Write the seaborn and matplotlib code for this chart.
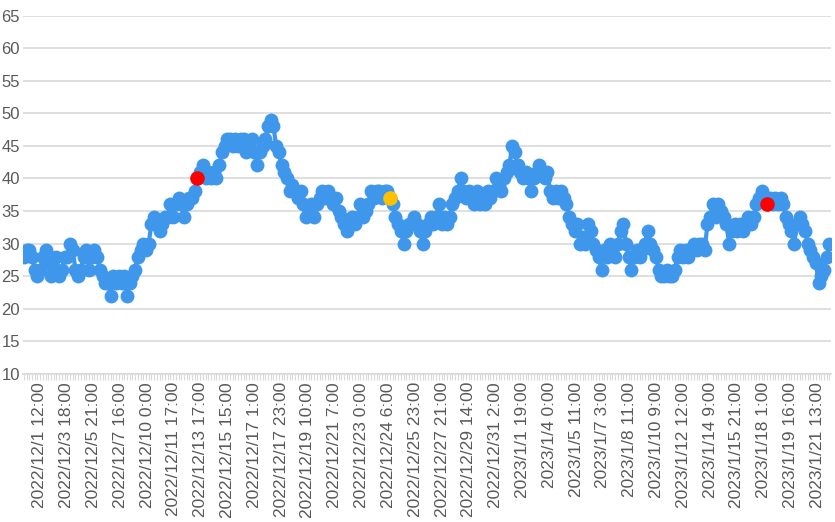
import numpy as np
import matplotlib
matplotlib.use("Agg")
import matplotlib.pyplot as plt
import seaborn as sns

# values, split at the highlighted points
seg1 = [28, 29, 29, 28, 26, 25, 26, 28, 29, 27, 25, 26, 28, 25, 26, 28, 28, 30, 29, 26,
        25, 26, 28, 29, 26, 28, 29, 28, 26, 25, 24, 24, 22, 25, 24, 25, 24, 25, 22,
        24, 25, 26, 28, 29, 30, 29, 30, 33, 34, 33, 32, 33, 34, 34, 36, 34, 36, 37, 36,
        34, 36, 37, 37, 38, 40]
seg2 = [41, 42, 40, 41, 40, 41, 40, 42, 44, 45, 46, 46, 45, 46, 45, 46, 46, 44,
        45, 46, 44, 42, 44, 45, 46, 48, 49, 48, 45, 44, 42, 41, 40, 38, 39, 38, 37,
        38, 36, 34, 35, 36, 34, 36, 37, 38, 37, 38, 37, 36, 37, 35, 34, 33, 32, 33,
        34, 33, 34, 36, 34, 35, 36, 38, 37, 38, 38, 37, 38, 38, 37]
seg3 = [36, 34, 33, 32, 30, 32, 33, 33, 34, 33, 32, 30, 32, 33, 34, 33, 34, 36,
        33, 34, 33, 34, 36, 37, 38, 40, 38, 37, 38, 37, 36, 38, 36, 37, 36, 38, 37,
        38, 40, 39, 38, 40, 41, 42, 45, 44, 42, 41, 40, 41, 40, 38, 40, 41, 42, 41,
        40, 41, 38, 37, 38, 37, 38, 37, 36, 34, 33, 32, 33, 30, 31, 30, 33, 32, 30,
        29, 28, 26, 29, 28, 30, 29, 28, 30, 32, 33, 30, 28, 26, 28, 29, 28, 29, 30,
        32, 30, 29, 28, 26, 25, 25, 26, 25, 25, 26, 28, 29, 28, 29, 28, 29, 30, 29,
        30, 30, 29, 33, 34, 36, 34, 36, 35, 34, 33, 30, 32, 33, 32, 33, 32, 33, 34,
        33, 34, 36, 37, 38, 37, 36]
seg4 = [37, 36, 37, 36, 37, 36, 34, 33, 32, 30, 33, 34, 33, 32, 30, 29, 28, 27,
        24, 25, 26, 28, 30]

labels = ['2022/12/1 12:00', '2022/12/3 18:00', '2022/12/5 21:00', '2022/12/7 16:00',
          '2022/12/10 0:00', '2022/12/11 17:00', '2022/12/13 17:00', '2022/12/15 15:00',
          '2022/12/17 1:00', '2022/12/17 23:00', '2022/12/19 10:00', '2022/12/21 7:00',
          '2022/12/23 0:00', '2022/12/24 6:00', '2022/12/25 23:00', '2022/12/27 21:00',
          '2022/12/29 14:00', '2022/12/31 2:00', '2023/1/1 19:00', '2023/1/4 0:00',
          '2023/1/5 11:00', '2023/1/7 3:00', '2023/1/8 11:00', '2023/1/10 9:00',
          '2023/1/12 12:00', '2023/1/14 9:00', '2023/1/15 21:00', '2023/1/18 1:00',
          '2023/1/19 16:00', '2023/1/21 13:00']

values = np.array(seg1 + seg2 + seg3 + seg4, dtype=float)
x = np.arange(len(values))
red_idx = [len(seg1) - 1, len(seg1) + len(seg2) + len(seg3) - 1]
yellow_idx = [len(seg1) + len(seg2) - 1]

sns.set_theme(style="white")
plt.rcParams['font.family'] = ['Liberation Sans', 'DejaVu Sans']

fig = plt.figure(figsize=(8.35, 5.22), dpi=100)
ax = fig.add_axes([0.027, 0.284, 0.968, 0.686])

sns.lineplot(x=x, y=values, ax=ax, color='#3f97ec', linewidth=3, marker='o',
             markersize=10, markeredgewidth=0, markerfacecolor='#3f97ec')
ax.scatter(x[red_idx], values[red_idx], s=110, color='#ff0000', zorder=5, linewidths=0)
ax.scatter(x[yellow_idx], values[yellow_idx], s=110, color='#ffc000', zorder=5, linewidths=0)

n = len(values)
ax.set_xlim(-0.5, n - 0.5)
ax.set_ylim(10, 65)
ax.set_yticks(range(10, 66, 5))
ax.grid(axis='y', color='#d9d9d9', linewidth=1.2)
ax.set_axisbelow(True)

# category axis: label every ~n/30.2 points
step = n / 30.15
ticks = [(38 - 22) / 808 * n + k * step for k in range(len(labels))]
ax.set_xticks(ticks)
ax.set_xticklabels(labels, rotation=90, fontsize=12.5, color='#595959')
ax.set_xticks(x, minor=True)
ax.tick_params(axis='x', which='minor', length=4, color='#d9d9d9', width=0.8, bottom=True)
ax.tick_params(axis='x', which='major', length=0, pad=6)
ax.tick_params(axis='y', length=0, labelsize=12, labelcolor='#595959', pad=2)
for s in ['top', 'right', 'left']:
    ax.spines[s].set_visible(False)
ax.spines['bottom'].set_color('#d9d9d9')
ax.spines['bottom'].set_linewidth(1.2)
ax.set_xlabel('')
ax.set_ylabel('')

fig.savefig('out.png', dpi=100)
